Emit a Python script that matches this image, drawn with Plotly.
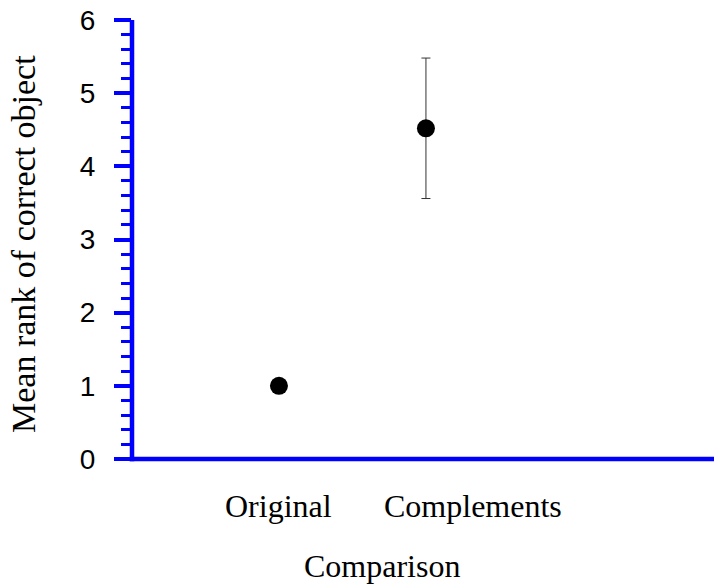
import plotly.graph_objects as go

categories = ["Original", "Complements"]
x_pos = [1, 2]
means = [1.0, 4.52]
errors = [0.0, 0.96]
y_ticks = [0, 1, 2, 3, 4, 5, 6]

L, T, B = 132, 20, 459
W = 714 - L
H = B - T

fig = go.Figure()
fig.add_trace(go.Scatter(
    x=x_pos, y=means, mode="markers",
    marker=dict(color="black", size=18),
    error_y=dict(type="data", array=errors, visible=True, color="#333333",
                 thickness=1, width=4.5),
    showlegend=False, cliponaxis=False,
))

fig.update_layout(
    width=714, height=585,
    margin=dict(l=L, r=0, t=T, b=585 - B),
    plot_bgcolor="white", paper_bgcolor="white",
    xaxis=dict(range=[0, 3.96], showgrid=False, zeroline=False,
               showticklabels=False, ticks="", showline=False),
    yaxis=dict(range=[0, 6], showgrid=False, zeroline=False,
               tickvals=y_ticks, ticktext=[str(v) for v in y_ticks],
               ticks="outside", ticklen=17, tickwidth=4, tickcolor="#0000ff",
               ticklabelstandoff=13,
               minor=dict(dtick=0.2, ticks="outside", ticklen=10, tickwidth=3.3,
                          tickcolor="#0000ff", showgrid=False),
               showline=False,
               tickfont=dict(family="Liberation Sans, Arial", size=28, color="black")),
)

# axis lines
fig.add_shape(type="line", xref="paper", yref="paper",
              x0=0, x1=0, y0=-2.3 / H, y1=1, line=dict(color="#0000ff", width=4.5))
fig.add_shape(type="line", xref="paper", yref="paper",
              x0=-2.3 / W, x1=1, y0=0, y1=0, line=dict(color="#0000ff", width=4.5))

serif = dict(family="Liberation Serif, Times New Roman", size=32, color="black")
label_px = [278, 473]
for cat, px in zip(categories, label_px):
    fig.add_annotation(text=cat, xref="paper", yref="paper",
                       x=(px - L) / W, y=-(506 - B) / H,
                       showarrow=False, xanchor="center", yanchor="middle", font=serif)

fig.add_annotation(text="Comparison", xref="paper", yref="paper",
                   x=(381.5 - L) / W, y=-(566 - B) / H,
                   showarrow=False, xanchor="center", yanchor="middle", font=serif)

fig.add_annotation(text="Mean rank of correct object", xref="paper", yref="paper",
                   x=-(L - 24) / W, y=(B - 244) / H, textangle=-90,
                   showarrow=False, xanchor="center", yanchor="middle",
                   font=dict(family="Liberation Serif, Times New Roman", size=34, color="black"))

fig.write_html("out.html")
